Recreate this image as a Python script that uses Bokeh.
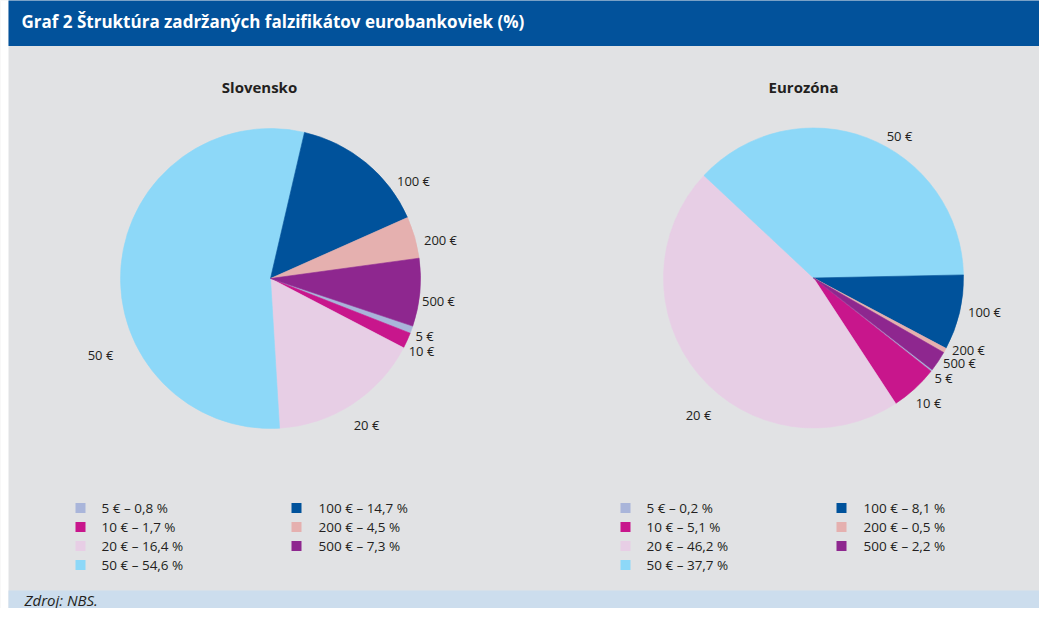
import numpy as np
from bokeh.plotting import figure
from bokeh.models import ColumnDataSource
from bokeh.core.properties import value
from bokeh.embed import file_html
from bokeh.resources import INLINE

# ---------------- data ----------------
chart_title = "Graf 2 Štruktúra zadržaných falzifikátov eurobankoviek (%)"
source_note = "Zdroj: NBS."
panel_titles = ["Slovensko", "Eurozóna"]
denoms = ["5 €", "10 €", "20 €", "50 €", "100 €", "200 €", "500 €"]
slovensko = [0.8, 1.7, 16.4, 54.6, 14.7, 4.5, 7.3]
eurozona = [0.2, 5.1, 46.2, 37.7, 8.1, 0.5, 2.2]

# ---------------- styles / layout ----------------
colors = ["#A9B5DA", "#C8168C", "#E7CEE5", "#8DD8F8", "#00529B", "#E5B0AF", "#8E278F"]
BG = "#E1E2E4"
BANNER = "#02529B"
FOOTER = "#CCDDED"
TXT = "#231F20"
FONT = "Open Sans"

W, H = 1039, 608


def X(x):  # picture px -> data
    return x


def Y(y):  # picture px (down) -> data (up)
    return H - y


pies = [
    dict(vals=slovensko, cx=270, cy=278, r=150, start=108.5, title_xy=(259, 86),
         leg_x=(80, 296), leg_tx=(101, 318),
         lab_off=[(154, 57), (151, 72), (96, 146), (-170, 76), (143, -98), (170, -39), (168, 22)]),
    dict(vals=eurozona, cx=813, cy=277.5, r=150, start=127.7, title_xy=(803, 86),
         leg_x=(625, 841), leg_tx=(646, 863),
         lab_off=[(130, 100), (115, 125), (-115, 137), (86, -142), (171, 34), (155, 72), (146, 85)]),
]
leg_rows_y = [507.5, 526.5, 545.5, 564.5]

p = figure(width=W, height=H, x_range=(0, W), y_range=(0, H),
           output_backend="svg", toolbar_location=None,
           min_border=0, background_fill_color=BG, border_fill_color=BG,
           outline_line_color=None)
p.axis.visible = False
p.grid.visible = False

# left white margin strip, banner + footer bands
p.quad(left=[-5], right=[X(8)], top=[H + 5], bottom=[-5],
       fill_color="white", line_color=None)
p.quad(left=[X(8)], right=[W + 5], top=[H + 5], bottom=[Y(45.5)],
       fill_color=BANNER, line_color=None)
p.quad(left=[X(8)], right=[W + 5], top=[Y(590)], bottom=[-5],
       fill_color=FOOTER, line_color=None)
p.text(x=[X(21)], y=[Y(21)], text=[chart_title], text_font=value(FONT),
       text_font_style="bold", text_font_size="17px", text_color="white",
       text_baseline="middle", text_align="left")
p.text(x=[X(24)], y=[Y(599)], text=[source_note], text_font=value(FONT),
       text_font_style="italic", text_font_size="15px", text_color=TXT,
       text_baseline="middle", text_align="left")

for k, pie in enumerate(pies):
    vals = np.array(pie["vals"], dtype=float)
    cum = np.concatenate([[0.0], np.cumsum(vals)]) / vals.sum() * 360.0
    c_start = pie["start"] + cum[:-1]
    c_end = pie["start"] + cum[1:]
    src = ColumnDataSource(dict(
        x=[X(pie["cx"])] * len(vals), y=[Y(pie["cy"])] * len(vals),
        start=np.radians(90 - c_end), end=np.radians(90 - c_start),
        color=colors, name=denoms))
    p.wedge(x="x", y="y", radius=pie["r"], start_angle="start", end_angle="end",
            direction="anticlock", fill_color="color", line_color="color",
            line_width=0.6, source=src)

    # slice labels
    lx = [X(pie["cx"] + dx) for dx, dy in pie["lab_off"]]
    ly = [Y(pie["cy"] + dy) for dx, dy in pie["lab_off"]]
    p.text(x=lx, y=ly, text=denoms, text_font=value(FONT), text_font_size="13px",
           text_color=TXT, text_align="center", text_baseline="middle")

    # panel title
    tx, ty = pie["title_xy"]
    p.text(x=[X(tx)], y=[Y(ty)], text=[panel_titles[k]], text_font=value(FONT),
           text_font_style="bold", text_font_size="15px", text_color=TXT,
           text_align="center", text_baseline="middle")

    # legend
    sq_x, sq_y, t_x, t_y, t_txt, sq_c = [], [], [], [], [], []
    for i, (d, v) in enumerate(zip(denoms, pie["vals"])):
        col = 0 if i < 4 else 1
        row = i if i < 4 else i - 4
        sq_x.append(X(pie["leg_x"][col]))
        sq_y.append(Y(leg_rows_y[row]))
        t_x.append(X(pie["leg_tx"][col]))
        t_y.append(Y(leg_rows_y[row]))
        t_txt.append(f"{d} – {v:.1f} %".replace(".", ","))
        sq_c.append(colors[i])
    p.rect(x=sq_x, y=sq_y, width=10, height=10, fill_color=sq_c, line_color=None)
    p.text(x=t_x, y=t_y, text=t_txt, text_font=value(FONT), text_font_size="13.5px",
           text_color=TXT, text_align="left", text_baseline="middle")

open("out.html", "w").write(file_html(p, INLINE))
